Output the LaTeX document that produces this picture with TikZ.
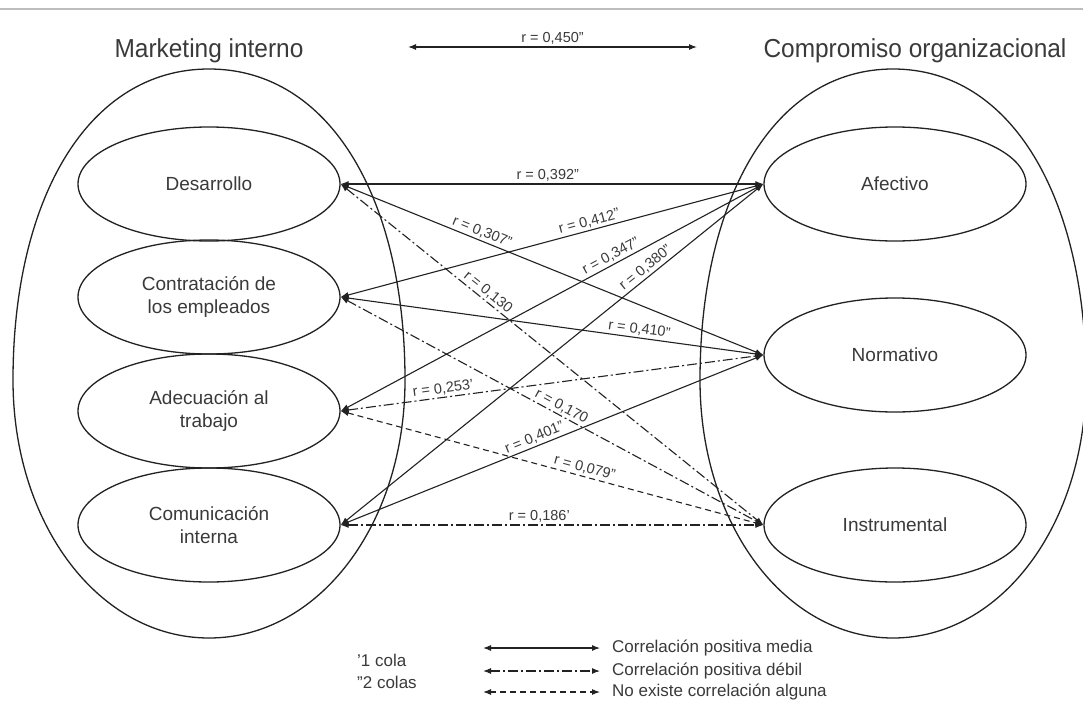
\documentclass[tikz,border=0pt]{standalone}
\usepackage{fontspec}
\setmainfont{Liberation Sans}
\newfontfamily\condfont[FakeStretch=0.94]{Liberation Sans}
\usetikzlibrary{arrows.meta,shapes.geometric}
\definecolor{ink}{HTML}{222222}
\definecolor{txt}{HTML}{3A3A3A}
\definecolor{rulegray}{HTML}{BDBDBD}
\begin{document}
\begin{tikzpicture}[x=1pt,y=-1pt,
  big/.style={draw=ink,line width=1.3pt},
  sub/.style={draw=ink,line width=1.3pt,ellipse,minimum width=262pt,minimum height=114pt,inner sep=0pt,align=center,font=\fontsize{19}{23}\selectfont,text=txt},
  rel/.style={draw=ink,line width=1.1pt,{Latex[length=8pt,width=6pt]}-{Latex[length=8pt,width=6pt]}},
  media/.style={rel},
  debil/.style={rel,dash pattern=on 10pt off 3pt on 2pt off 3pt},
  nula/.style={rel,dash pattern=on 6pt off 4pt},
  lab/.style={font=\fontsize{14.5}{16}\selectfont,text=txt,sloped,above,inner sep=2pt},
  titlefont/.style={font=\condfont\fontsize{26}{30}\selectfont,text=txt,anchor=base,inner sep=0pt},
  legtext/.style={font=\fontsize{17}{20}\selectfont,text=txt,anchor=west,inner sep=0pt}
]
\useasboundingbox (0,0) rectangle (1083,704);
\fill[white] (0,0) rectangle (1083,704);
\draw[rulegray,line width=2pt] (0,9) -- (1083,9);

% titles
\node[titlefont] (tmi) at (209,57) {Marketing interno};
\node[titlefont] (tco) at (915,57) {Compromiso organizacional};

% big shapes
\draw[big] (209,69) .. controls (209+0.62*196,69) and (405,380-0.58*311) .. (405,380)
  .. controls (405,380+0.56*258) and (209+0.56*196,638) .. (209,638)
  .. controls (209-0.56*196,638) and (13,380+0.56*258) .. (13,380)
  .. controls (13,380-0.58*311) and (209-0.62*196,69) .. (209,69) -- cycle;
\draw[big] (893,69) .. controls (893+0.62*193,69) and (1086,380-0.58*311) .. (1086,380)
  .. controls (1086,380+0.56*258) and (893+0.56*193,638) .. (893,638)
  .. controls (893-0.56*193,638) and (700,380+0.56*258) .. (700,380)
  .. controls (700,380-0.58*311) and (893-0.62*193,69) .. (893,69) -- cycle;

% inner ellipses
\node[sub] (des) at (209,184) {Desarrollo};
\node[sub] (con) at (209,297) {Contratación de\\los empleados};
\node[sub] (ade) at (209,411) {Adecuación al\\trabajo};
\node[sub] (com) at (209,525) {Comunicación\\interna};
\node[sub] (afe) at (895,184) {Afectivo};
\node[sub] (nor) at (895,355) {Normativo};
\node[sub] (ins) at (895,525) {Instrumental};

% top correlation
\coordinate (ta) at (408,47);
\coordinate (tb) at (697,47);
\draw[media] (ta) -- node[lab,pos=0.5]{r = 0,450”} (tb);

% relations
\draw[media] (des.east) -- node[lab,pos=0.49]{r = 0,392”} (afe.west);
\draw[media] (des.east) -- node[lab,pos=0.327]{r = 0,307”} (nor.west);
\draw[debil] (des.east) -- node[lab,pos=0.336]{r = 0,130} (ins.west);
\draw[media] (con.east) -- node[lab,pos=0.593]{r = 0,412”} (afe.west);
\draw[media] (con.east) -- node[lab,pos=0.704]{r = 0,410”} (nor.west);
\draw[debil] (con.east) -- node[lab,pos=0.513]{r = 0,170} (ins.west);
\draw[media] (ade.east) -- node[lab,pos=0.649]{r = 0,347”} (afe.west);
\draw[debil] (ade.east) -- node[lab,pos=0.245]{r = 0,253’} (nor.west);
\draw[nula] (ade.east) -- node[lab,pos=0.572]{r = 0,079”} (ins.west);
\draw[media] (com.east) -- node[lab,pos=0.734]{r = 0,380”} (afe.west);
\draw[media] (com.east) -- node[lab,pos=0.466]{r = 0,401”} (nor.west);
\draw[debil] (com.east) -- node[lab,pos=0.47]{r = 0,186’} (ins.west);

% legend
\node[legtext] (c1) at (357,660) {’1 cola};
\node[legtext] (c2) at (357,682) {”2 colas};
\coordinate (l1a) at (483,648); \coordinate (l1b) at (600,648);
\coordinate (l2a) at (483,671); \coordinate (l2b) at (600,671);
\coordinate (l3a) at (483,692); \coordinate (l3b) at (600,692);
\draw[media] (l1a) -- (l1b);
\draw[debil] (l2a) -- (l2b);
\draw[nula] (l3a) -- (l3b);
\node[legtext] (t1) at (612,648) {Correlación positiva media};
\node[legtext] (t2) at (612,671) {Correlación positiva débil};
\node[legtext] (t3) at (612,692) {No existe correlación alguna};
\end{tikzpicture}
\end{document}
